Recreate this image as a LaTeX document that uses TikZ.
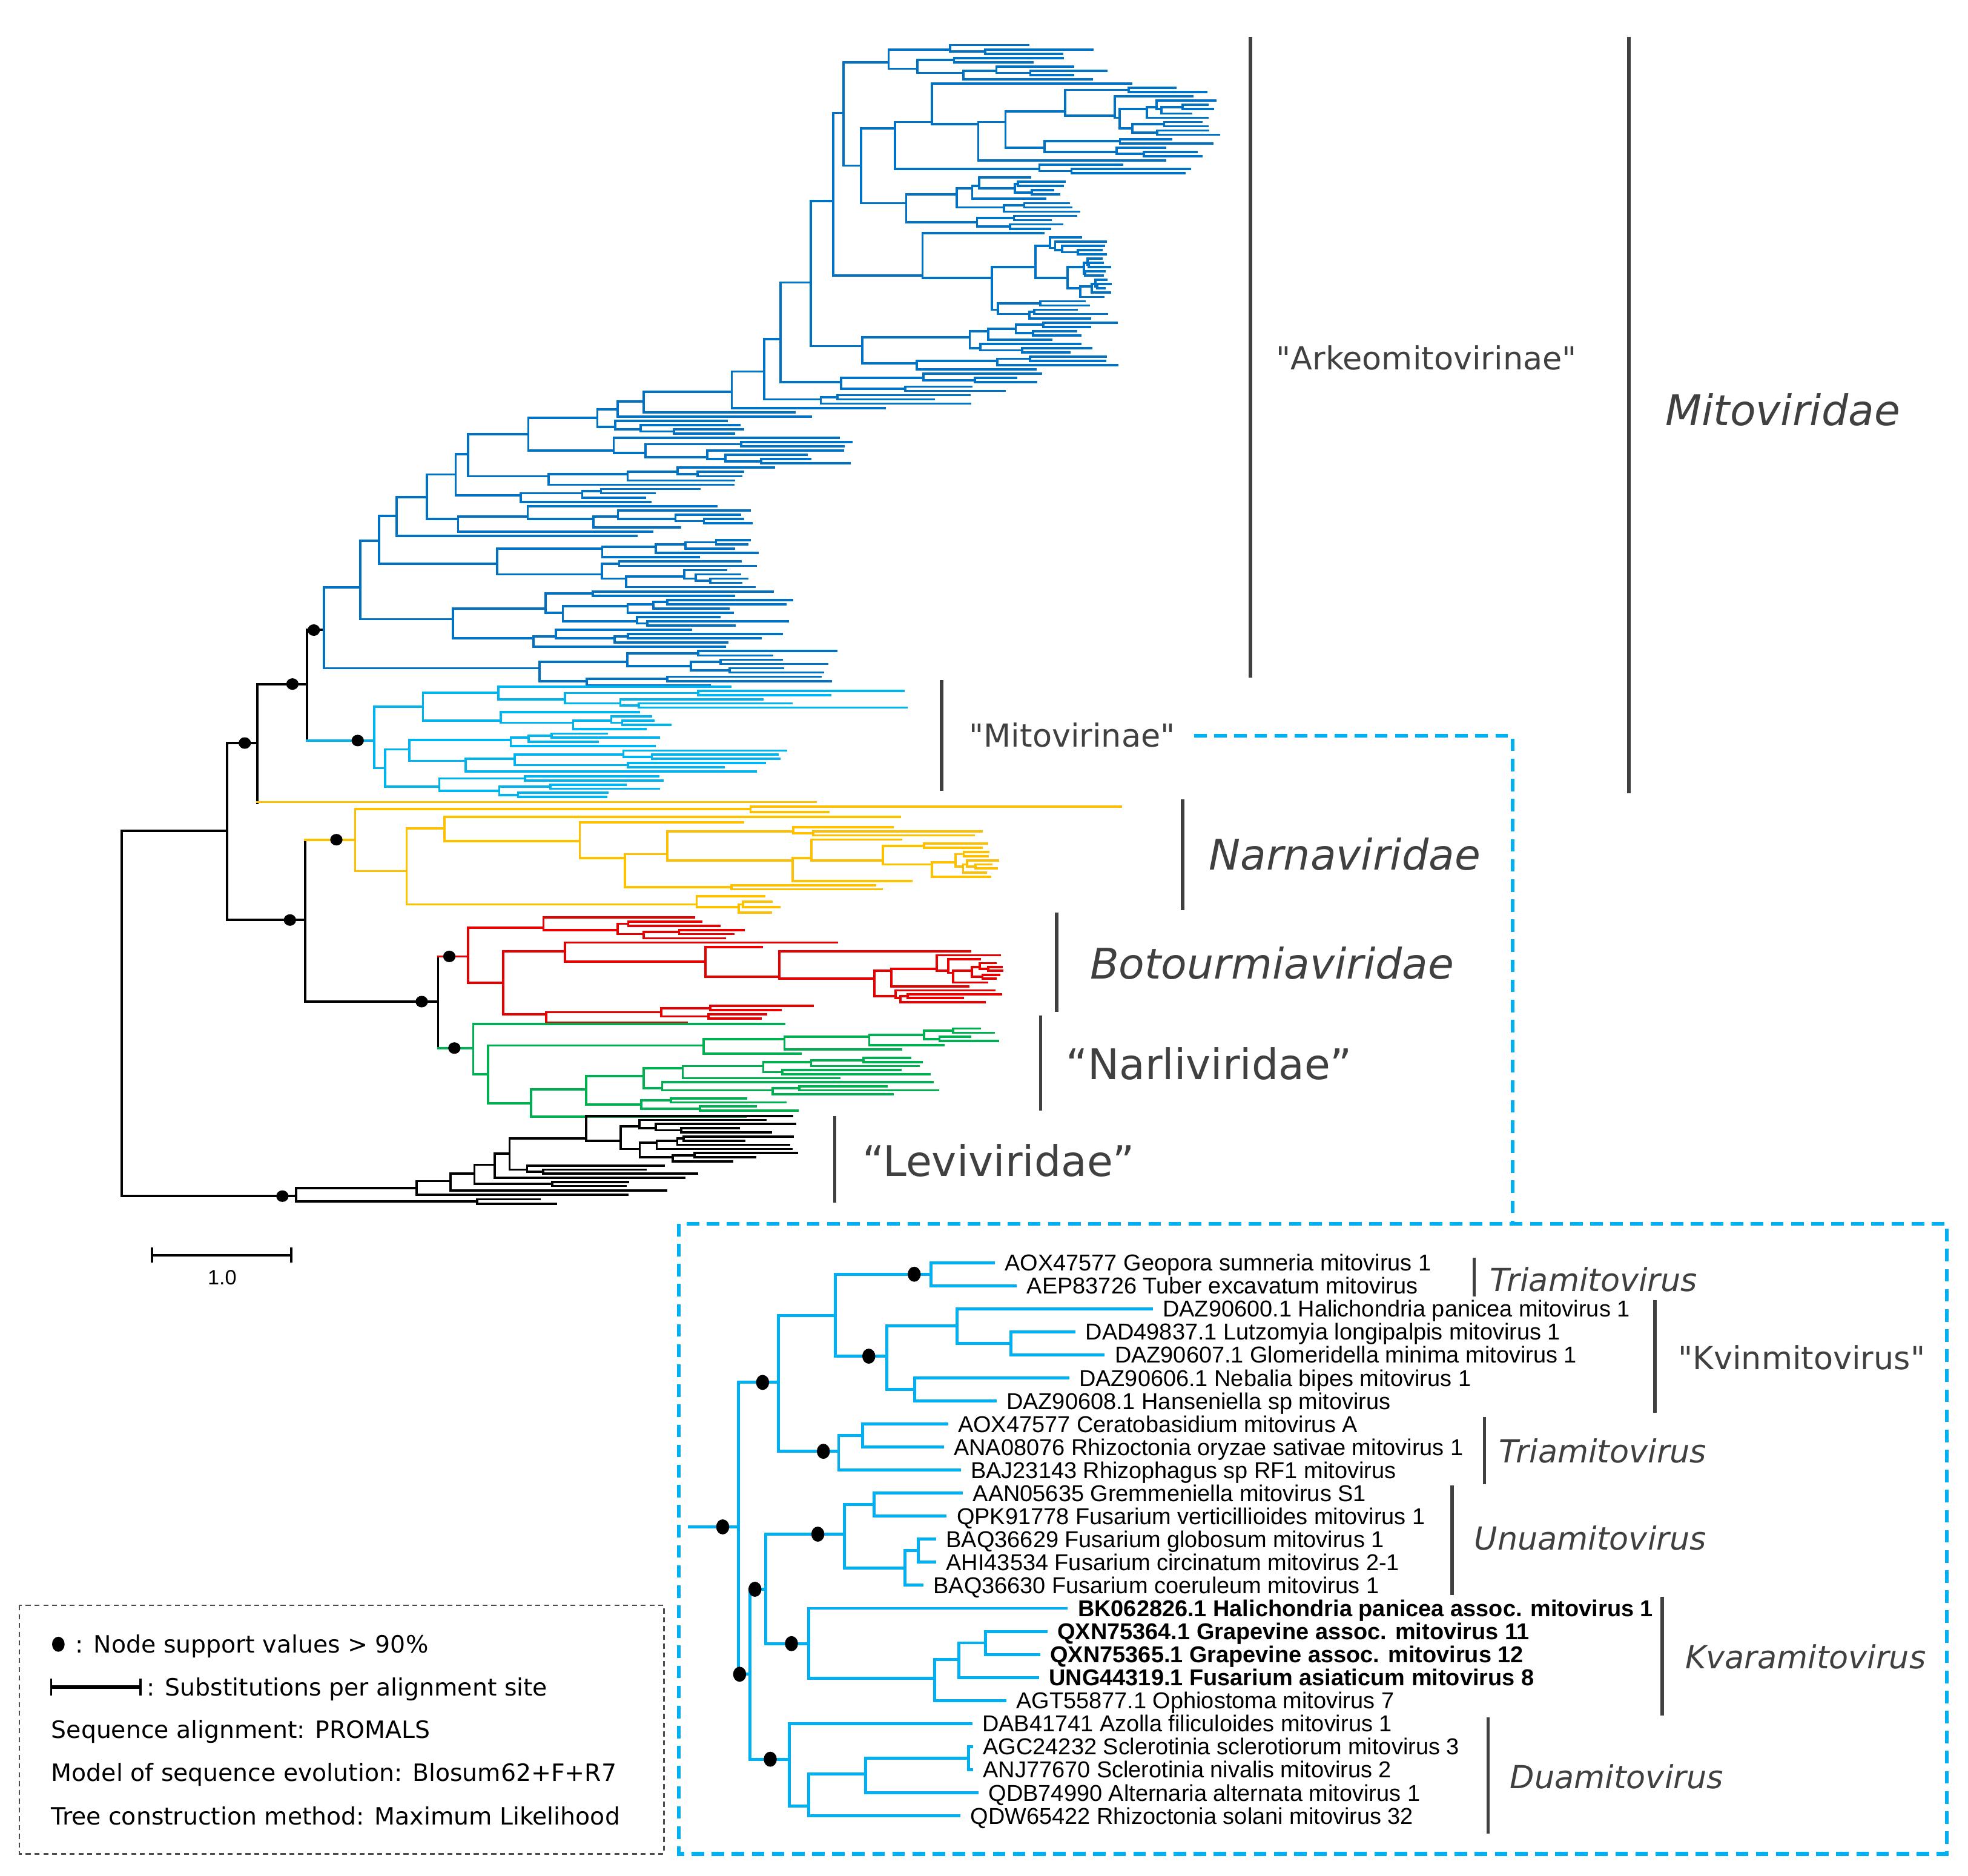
\documentclass[tikz,border=0pt]{standalone}
\usepackage{fontspec}
\setmainfont{DejaVu Sans}[Ligatures=TeXOff]
\newfontfamily\arialf{Liberation Sans}
\newcommand\sq{"}
\definecolor{arkblue}{RGB}{0,114,198}
\definecolor{mitocyan}{RGB}{0,180,240}
\definecolor{narnay}{RGB}{255,192,0}
\definecolor{botred}{RGB}{232,0,0}
\definecolor{narlig}{RGB}{0,176,80}
\definecolor{labgray}{RGB}{64,64,64}
\definecolor{inscyan}{RGB}{0,176,240}
\tikzset{
  br/.style={line width=1.8pt, line cap=rect},
  ibr/.style={line width=2.4pt, line cap=rect, draw=inscyan},
  cbar/.style={line width=2.8pt, draw=labgray},
  ibar/.style={line width=2.6pt, draw=labgray},
  cydash/.style={line width=3pt, draw=inscyan, dash pattern=on 10pt off 6pt},
  legbox/.style={line width=1.2pt, draw=black!70, dash pattern=on 4pt off 3pt},
  lab/.style={anchor=west, inner sep=0pt, text=labgray},
  labS/.style={lab, font=\fontsize{25.3}{30}\selectfont, text height=18.5pt, text depth=0pt},
  labL/.style={lab, font=\fontsize{33.6}{40}\selectfont, text height=24.5pt, text depth=0pt},
  leafT/.style={anchor=west, inner xsep=9pt, inner ysep=0pt, font=\arialf\fontsize{18.3}{20}\selectfont, text height=13.1pt, text depth=0pt},
  legT/.style={anchor=west, inner sep=0pt, font=\fontsize{19}{22}\selectfont, text height=13.9pt, text depth=0pt},
}
% random subtree generator
\newcommand\rtree[6]{%
 \begingroup
 \edef\Rpx{#1}\edef\Rnx{#2}\edef\Ryo{#3}\edef\Rn{#4}\edef\Rdy{#5}\edef\Rxm{#6}%
 \ifnum\Rn=1\relax
   \draw (\Rpx,\Ryo) -- (\Rnx,\Ryo);
 \else
   \pgfmathsetmacro\Rym{\Ryo+(\Rn-1)*\Rdy/2}%
   \draw (\Rpx,\Rym) -- (\Rnx,\Rym);
   \pgfmathtruncatemacro\Rk{min(\Rn-1,1+floor(rnd*(\Rn-1)))}%
   \pgfmathtruncatemacro\Rkb{\Rn-\Rk}%
   \pgfmathsetmacro\Rya{\Ryo+(\Rk-1)*\Rdy/2}%
   \pgfmathsetmacro\Ryb{\Ryo+\Rk*\Rdy+(\Rkb-1)*\Rdy/2}%
   \pgfmathsetmacro\Rys{\Ryo+\Rk*\Rdy}%
   \draw (\Rnx,\Rya) -- (\Rnx,\Ryb);
   \edef\Rnext{\noexpand\ctree{\Rnx}{\Ryo}{\Rk}{\Rdy}{\Rxm}\noexpand\ctree{\Rnx}{\Rys}{\Rkb}{\Rdy}{\Rxm}}%
   \Rnext
 \fi
 \endgroup}
\newcommand\ctree[5]{%
 \begingroup
 \ifnum#3=1\relax
   \pgfmathsetmacro\Cx{#1+(0.45+0.55*rnd)*(#5-#1)}%
 \else
   \pgfmathsetmacro\Cx{#1+(0.04+0.4*rnd)*(#5-#1)}%
 \fi
 \edef\Cnext{\noexpand\rtree{#1}{\Cx}{#2}{#3}{#4}{#5}}%
 \Cnext
 \endgroup}
\begin{document}
\begin{tikzpicture}[x=1pt,y=-1pt]
\useasboundingbox (0,0) rectangle (1568,1494.2);
\fill[white] (0,0) rectangle (1568,1494.2);
\pgfmathsetseed{4242}

% ---------- backbone ----------
\begin{scope}[br, draw=black]
\draw (97,662)--(181,662);
\draw (97,662)--(97,953);
\draw (181,592)--(181,733);
\draw (181,592)--(205,592);
\draw (205,545)--(205,640);
\draw (205,545)--(244.6,545);
\draw (244.6,501.7)--(244.6,590);
\draw (244.6,501.7)--(258,501.7);
\draw (181,733)--(243,733);
\draw (243,669)--(243,798);
\draw (243,798)--(349,798);
\draw (349,762)--(349,835);
\draw (97,953)--(236,953);
\end{scope}

% ---------- Arkeomitovirinae ----------
\begin{scope}[br, draw=arkblue]
\rtree{672}{708}{36}{9}{3.4}{895}
\rtree{686}{713}{66.6}{22}{3.4}{975}
\rtree{686}{722}{141.4}{13}{3.4}{860}
\rtree{664}{735}{185.6}{21}{3.4}{885}
\rtree{646}{687}{257}{12}{3.4}{895}
\rtree{622}{670}{297.8}{5}{3.4}{830}
\rtree{609}{654}{314.8}{3}{3.4}{820}
\draw (583,325)--(705,325);
\draw (513,328.4)--(633,328.4);
\draw (492,331.8)--(646,331.8);
\rtree{476}{490}{335.2}{4}{3.4}{605}
\rtree{421}{489}{348.8}{7}{3.4}{693}
\rtree{373}{437}{372.6}{5}{3.4}{620}
\rtree{363}{415}{389.6}{4}{3.4}{565}
\rtree{340}{365}{403.2}{7}{3.4}{601}
\draw (316,427)--(507,427);
\rtree{302}{396}{430.4}{12}{3.4}{605}
\rtree{287}{361}{471.2}{14}{3.4}{645}
\rtree{258}{430}{518.8}{9}{3.4}{670}
\draw (672,132)--(686,132); \draw (686,102.3)--(686,161.8);
\draw (664,90)--(672,90);   \draw (672,49.6)--(672,132);
\draw (646,160)--(664,160); \draw (664,90)--(664,219.6);
\draw (622,225)--(646,225); \draw (646,160)--(646,275.7);
\draw (609,270)--(622,270); \draw (622,225)--(622,304.6);
\draw (583,296)--(609,296); \draw (609,270)--(609,318.2);
\draw (513,312)--(583,312); \draw (583,296)--(583,325);
\draw (492,320)--(513,320); \draw (513,312)--(513,328.4);
\draw (476,326)--(492,326); \draw (492,320)--(492,331.8);
\draw (421,333)--(476,333); \draw (476,326)--(476,340.3);
\draw (373,346)--(421,346); \draw (421,333)--(421,359);
\draw (363,362)--(373,362); \draw (373,346)--(373,379.4);
\draw (340,378)--(363,378); \draw (363,362)--(363,394.7);
\draw (316,396)--(340,396); \draw (340,378)--(340,413.4);
\draw (302,411)--(316,411); \draw (316,396)--(316,427);
\draw (287,431)--(302,431); \draw (302,411)--(302,449.1);
\draw (258,468)--(287,468); \draw (287,431)--(287,493.3);
\draw (258,468)--(258,532.4);
\end{scope}

% ---------- Mitovirinae ----------
\begin{scope}[br, draw=mitocyan]
\draw (244.6,590)--(298,590);
\draw (298,563)--(298,612);
\draw (298,563)--(337,563); \draw (337,552)--(337,574.1);
\draw (337,552)--(397,552); \draw (397,547)--(397,557.1);
\draw (397,547)--(582,547);
\rtree{397}{450}{550.5}{5}{3.3}{724}
\rtree{337}{399}{567.5}{5}{3.3}{545}
\draw (298,612)--(307,612); \draw (307,597)--(307,626.75);
\draw (307,597)--(326,597); \draw (326,589.45)--(326,606.25);
\rtree{326}{407}{584.5}{4}{3.3}{530}
\rtree{326}{371}{598}{6}{3.3}{636}
\rtree{307}{350}{618.5}{6}{3.3}{545}
\end{scope}

% ---------- Narnaviridae ----------
\begin{scope}[br, draw=narnay]
\draw (205,639)--(650,639);
\draw (243,669)--(283,669);
\draw (283,644.5)--(283,694);
\draw (283,644.5)--(598,644.5); \draw (598,642.5)--(598,647);
\draw (598,642.5)--(893,642.5); \draw (598,647)--(660,647);
\draw (283,694)--(324,694); \draw (324,660)--(324,720.5);
\draw (324,660)--(354,660); \draw (354,651)--(354,670);
\draw (354,651)--(717,651);
\draw (354,670)--(462,670); \draw (462,655)--(462,683.75);
\draw (462,655)--(592,655);
\rtree{462}{498}{659}{16}{3.3}{795}
\rtree{324}{555}{714}{4}{4.33}{632}
\end{scope}

% ---------- Botourmiaviridae ----------
\begin{scope}[br, draw=botred]
\draw (349,762)--(373,762);
\draw (373,739.25)--(373,783);
\rtree{373}{433}{731}{6}{3.3}{626}
\draw (373,783)--(401,783); \draw (401,758)--(401,808.1);
\draw (401,758)--(450,758); \draw (450,751)--(450,766);
\draw (450,751)--(667,751);
\draw (450,766)--(562,766); \draw (562,754.5)--(562,778.15);
\draw (562,754.5)--(607,754.5);
\rtree{562}{621}{758}{14}{3.1}{800}
\rtree{401}{435}{801.5}{5}{3.3}{648}
\end{scope}

% ---------- Narliviridae ----------
\begin{scope}[br, draw=narlig]
\draw (349,835)--(377,835);
\draw (377,816)--(377,856);
\draw (377,816)--(625,816);
\draw (377,856)--(389,856); \draw (389,833)--(389,879);
\draw (389,833)--(560.5,833); \draw (560.5,827.75)--(560.5,839.5);
\rtree{560.5}{625}{819.5}{6}{3.3}{797}
\draw (560.5,839.5)--(638,839.5);
\draw (389,879)--(423,879); \draw (423,868)--(423,889.5);
\draw (423,868)--(467,868); \draw (467,857.4)--(467,879.95);
\rtree{467}{513}{843}{10}{3.2}{752}
\rtree{467}{511}{875}{4}{3.3}{643}
\draw (423,889.5)--(594,889.5);
\end{scope}

% ---------- Leviviridae ----------
\begin{scope}[br, draw=black]
\draw (236,946.5)--(236,957.25);
\draw (236,946.5)--(332,946.5); \draw (332,941)--(332,952);
\draw (332,952)--(500,952);
\draw (332,941)--(359,941); \draw (359,935)--(359,948.5);
\draw (359,948.5)--(531,948.5);
\draw (359,935)--(378,935); \draw (378,928)--(378,943.25);
\rtree{378}{440}{941.6}{2}{3.3}{535}
\draw (378,928)--(394,928); \draw (394,919)--(394,938.3);
\draw (394,938.3)--(545,938.3);
\draw (394,919)--(406,919); \draw (406,907.15)--(406,931.8);
\rtree{406}{467}{889}{12}{3.3}{636}
\rtree{406}{420}{928.6}{3}{3.2}{560}
\draw (236,957.25)--(380,957.25); \draw (380,955.5)--(380,959);
\draw (380,955.5)--(430,955.5); \draw (380,959)--(443,959);
\end{scope}

% ---------- support dots (main) ----------
\foreach \p in {(250,502),(233,545),(195,592),(285,590),(268,669),(231,733),(336,798),(358,762),(362,835),(225,953)}
  \fill[black] \p ellipse[x radius=4.9pt, y radius=4.6pt];

% ---------- main scale bar ----------
\draw[line width=1.8pt] (121,1000)--(232,1000);
\draw[line width=1.8pt] (121,994)--(121,1006);
\draw[line width=1.8pt] (232,994)--(232,1006);
\node[font=\arialf\fontsize{16.5}{18}\selectfont, inner sep=0pt] (scl) at (177,1018) {1.0};

% ---------- main clade bars and labels ----------
\draw[cbar] (996.3,29.5)--(996.3,539.8);
\draw[cbar] (1297.9,29.5)--(1297.9,632);
\draw[cbar] (750.3,542)--(750.3,630.2);
\draw[cbar] (942.3,637)--(942.3,725);
\draw[cbar] (841.9,727)--(841.9,806.2);
\draw[cbar] (829.1,809)--(829.1,885);
\draw[cbar] (665.1,889)--(665.1,958.2);
\node[labS] (arkeo) at (1016.6,285.4) {\sq Arkeomitovirinae\sq};
\node[labL] (mitovir) at (1326.7,326.7) {\itshape Mitoviridae};
\node[labS] (mitov) at (772,586) {\sq Mitovirinae\sq};
\node[labL] (narna) at (963,681) {\itshape Narnaviridae};
\node[labL] (botou) at (868.3,767.8) {\itshape Botourmiaviridae};
\node[labL] (narli) at (849.1,847.8) {“Narliviridae”};
\node[labL] (levi) at (687.1,925) {“Leviviridae”};

% ---------- dashed connector and inset box ----------
\coordinate (dcorner) at (1205,586);
\coordinate (dbox) at (1205,975);
\draw[cydash] ([xshift=15pt]mitov.east) -- (dcorner) -- (dbox);
\draw[cydash] (541,975) rectangle (1551,1477);

% ---------- inset leaves ----------
\node[leafT] (l0) at (791.4,1006) {AOX47577 Geopora sumneria mitovirus 1};
\node[leafT] (l1) at (809,1024.36) {AEP83726 Tuber excavatum mitovirus};
\node[leafT] (l2) at (917.2,1042.72) {DAZ90600.1 Halichondria panicea mitovirus 1};
\node[leafT] (l3) at (855.7,1061.08) {DAD49837.1 Lutzomyia longipalpis mitovirus 1};
\node[leafT] (l4) at (879,1079.44) {DAZ90607.1 Glomeridella minima mitovirus 1};
\node[leafT] (l5) at (850.6,1097.8) {DAZ90606.1 Nebalia bipes mitovirus 1};
\node[leafT] (l6) at (792.7,1116.16) {DAZ90608.1 Hanseniella sp mitovirus};
\node[leafT] (l7) at (754.1,1134.52) {AOX47577 Ceratobasidium mitovirus A};
\node[leafT] (l8) at (750.8,1152.88) {ANA08076 Rhizoctonia oryzae sativae mitovirus 1};
\node[leafT] (l9) at (764.3,1171.24) {BAJ23143 Rhizophagus sp RF1 mitovirus};
\node[leafT] (l10) at (766,1189.6) {AAN05635 Gremmeniella mitovirus S1};
\node[leafT] (l11) at (753.1,1207.96) {QPK91778 Fusarium verticillioides mitovirus 1};
\node[leafT] (l12) at (744.7,1226.32) {BAQ36629 Fusarium globosum mitovirus 1};
\node[leafT] (l13) at (744.7,1244.68) {AHI43534 Fusarium circinatum mitovirus 2-1};
\node[leafT] (l14) at (734.5,1263.04) {BAQ36630 Fusarium coeruleum mitovirus 1};
\node[leafT] (l15) at (849.6,1281.4) {\bfseries BK062826.1 Halichondria panicea assoc. mitovirus 1};
\node[leafT] (l16) at (833.3,1299.76) {\bfseries QXN75364.1 Grapevine assoc. mitovirus 11};
\node[leafT] (l17) at (827.6,1318.12) {\bfseries QXN75365.1 Grapevine assoc. mitovirus 12};
\node[leafT] (l18) at (826.6,1336.48) {\bfseries UNG44319.1 Fusarium asiaticum mitovirus 8};
\node[leafT] (l19) at (800.5,1354.84) {AGT55877.1 Ophiostoma mitovirus 7};
\node[leafT] (l20) at (773.4,1373.2) {DAB41741 Azolla filiculoides mitovirus 1};
\node[leafT] (l21) at (774.1,1391.56) {AGC24232 Sclerotinia sclerotiorum mitovirus 3};
\node[leafT] (l22) at (774.1,1409.92) {ANJ77670 Sclerotinia nivalis mitovirus 2};
\node[leafT] (l23) at (778.5,1428.28) {QDB74990 Alternaria alternata mitovirus 1};
\node[leafT] (l24) at (764,1446.64) {QDW65422 Rhizoctonia solani mitovirus 32};

% ---------- inset tree ----------
\begin{scope}[ibr]
\draw (549.4,1216.5)--(588.3,1216.5);
\draw (588.3,1101.4)--(588.3,1333.9);
\draw (588.3,1101.4)--(620.1,1101.4); \draw (620.1,1048.3)--(620.1,1156.3);
\draw (620.1,1048.3)--(665.5,1048.3); \draw (665.5,1015.2)--(665.5,1080.5);
\draw (665.5,1015.2)--(742,1015.2); \draw (742,1006)--(742,1024.36);
\draw (742,1006)--(l0.west); \draw (742,1024.36)--(l1.west);
\draw (665.5,1080.5)--(706.4,1080.5); \draw (706.4,1056.4)--(706.4,1107);
\draw (706.4,1056.4)--(762.6,1056.4); \draw (762.6,1042.72)--(762.6,1070.3);
\draw (762.6,1042.72)--(l2.west);
\draw (762.6,1070.3)--(805.6,1070.3); \draw (805.6,1061.08)--(805.6,1079.44);
\draw (805.6,1061.08)--(l3.west); \draw (805.6,1079.44)--(l4.west);
\draw (706.4,1107)--(728.8,1107); \draw (728.8,1097.8)--(728.8,1116.16);
\draw (728.8,1097.8)--(l5.west); \draw (728.8,1116.16)--(l6.west);
\draw (620.1,1156.3)--(668.2,1156.3); \draw (668.2,1143.7)--(668.2,1171.24);
\draw (668.2,1143.7)--(687.1,1143.7); \draw (687.1,1134.52)--(687.1,1152.88);
\draw (687.1,1134.52)--(l7.west); \draw (687.1,1152.88)--(l8.west);
\draw (668.2,1171.24)--(l9.west);
\draw (588.3,1333.9)--(597.4,1333.9); \draw (597.4,1266.2)--(597.4,1401.6);
\draw (597.4,1266.2)--(610,1266.2); \draw (610,1222.3)--(610,1309.5);
\draw (610,1222.3)--(672.9,1222.3); \draw (672.9,1198.8)--(672.9,1249.3);
\draw (672.9,1198.8)--(696.3,1198.8); \draw (696.3,1189.6)--(696.3,1207.96);
\draw (696.3,1189.6)--(l10.west); \draw (696.3,1207.96)--(l11.west);
\draw (672.9,1249.3)--(721,1249.3); \draw (721,1235.5)--(721,1263.04);
\draw (721,1235.5)--(731.8,1235.5); \draw (731.8,1226.32)--(731.8,1244.68);
\draw (731.8,1226.32)--(l12.west); \draw (731.8,1244.68)--(l13.west);
\draw (721,1263.04)--(l14.west);
\draw (610,1309.5)--(644.2,1309.5); \draw (644.2,1281.4)--(644.2,1337.3);
\draw (644.2,1281.4)--(l15.west);
\draw (644.2,1337.3)--(744.7,1337.3); \draw (744.7,1322.4)--(744.7,1354.84);
\draw (744.7,1322.4)--(764,1322.4); \draw (764,1308.9)--(764,1336.48);
\draw (764,1308.9)--(785.3,1308.9); \draw (785.3,1299.76)--(785.3,1318.12);
\draw (785.3,1299.76)--(l16.west); \draw (785.3,1318.12)--(l17.west);
\draw (764,1336.48)--(l18.west);
\draw (744.7,1354.84)--(l19.west);
\draw (597.4,1401.6)--(628.9,1401.6); \draw (628.9,1373.2)--(628.9,1438.8);
\draw (628.9,1373.2)--(l20.west);
\draw (628.9,1438.8)--(644.2,1438.8); \draw (644.2,1413.5)--(644.2,1446.64);
\draw (644.2,1413.5)--(689.5,1413.5); \draw (689.5,1400.7)--(689.5,1428.28);
\draw (689.5,1400.7)--(771.7,1400.7); \draw (771.7,1391.56)--(771.7,1409.92);
\draw (771.7,1391.56)--(l21.west); \draw (771.7,1409.92)--(l22.west);
\draw (689.5,1428.28)--(l23.west);
\draw (644.2,1446.64)--(l24.west);
\end{scope}
\foreach \p in {(575.8,1216.5),(607.6,1101.4),(728.4,1015.2),(692.2,1080.5),(656,1156.3),(589.3,1333.9),(601.5,1266.2),(651.6,1222.3),(630.6,1309.5),(613.7,1401.6)}
  \fill[black] \p ellipse[x radius=5.2pt, y radius=6pt];

% ---------- inset clade bars and labels ----------
\draw[ibar] (1174.4,1002)--(1174.4,1032.7);
\draw[ibar] (1318.5,1035.7)--(1318.5,1125.7);
\draw[ibar] (1182.6,1129)--(1182.6,1182.4);
\draw[ibar] (1156.9,1183.3)--(1156.9,1271);
\draw[ibar] (1324.3,1272.4)--(1324.3,1366.6);
\draw[ibar] (1185.5,1368)--(1185.5,1461);
\node[labS] (tri1) at (1187,1019.6) {\itshape Triamitovirus};
\node[labS] (kvin) at (1337,1081.9) {\sq Kvinmitovirus\sq};
\node[labS] (tri2) at (1194.3,1156) {\itshape Triamitovirus};
\node[labS] (unua) at (1174.4,1225.7) {\itshape Unuamitovirus};
\node[labS] (kvara) at (1342.5,1320) {\itshape Kvaramitovirus};
\node[labS] (dua) at (1203,1415.7) {\itshape Duamitovirus};

% ---------- legend ----------
\draw[legbox] (15.5,1279) rectangle (529,1477);
\fill[black] (46.5,1310) ellipse[x radius=5pt, y radius=6pt];
\node[legT] (lg1) at (60,1310) {: Node support values > 90\%};
\draw[line width=2.6pt] (40.7,1344.2)--(112,1344.2);
\draw[line width=1.6pt] (40.7,1337.5)--(40.7,1351);
\draw[line width=1.6pt] (112,1337.5)--(112,1351);
\node[legT] (lg2) at (117,1344.2) {: Substitutions per alignment site};
\node[legT] (lg3) at (40.7,1378) {Sequence alignment: PROMALS};
\node[legT] (lg4) at (40.7,1412) {Model of sequence evolution: Blosum62+F+R7};
\node[legT] (lg5) at (40.7,1447) {Tree construction method: Maximum Likelihood};
\end{tikzpicture}
\end{document}
